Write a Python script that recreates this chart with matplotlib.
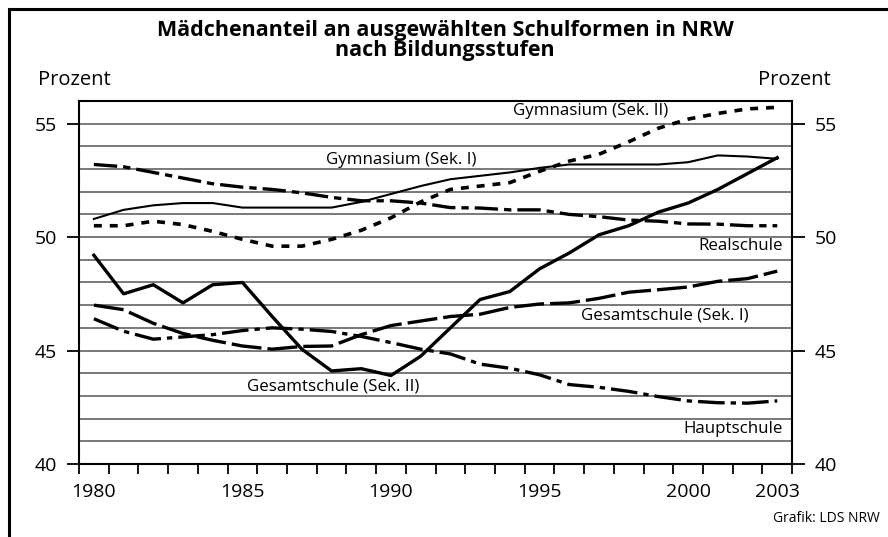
import numpy as np
import matplotlib
matplotlib.use("Agg")
from matplotlib import pyplot as plt
from matplotlib.lines import Line2D

plt.rcParams['font.family'] = ['Open Sans', 'DejaVu Sans']

# Daten: Mädchenanteil in Prozent, 1980-2003
jahre = list(range(1980, 2004))

gym_sek1 = [50.8, 51.2, 51.4, 51.5, 51.5, 51.3, 51.3, 51.3, 51.3, 51.55, 51.9, 52.25,
            52.55, 52.7, 52.85, 53.05, 53.2, 53.2, 53.2, 53.2, 53.3, 53.6, 53.55, 53.45]
gym_sek2 = [50.5, 50.5, 50.7, 50.55, 50.25, 49.9, 49.6, 49.6, 49.9, 50.3, 50.85, 51.55,
            52.1, 52.25, 52.4, 52.9, 53.35, 53.65, 54.2, 54.8, 55.2, 55.45, 55.65, 55.72]
realschule = [53.2, 53.1, 52.85, 52.6, 52.35, 52.2, 52.1, 51.95, 51.75, 51.6, 51.6, 51.5,
              51.3, 51.28, 51.2, 51.2, 51.0, 50.9, 50.75, 50.7, 50.58, 50.57, 50.5, 50.5]
ges_sek1 = [47.0, 46.8, 46.2, 45.75, 45.45, 45.2, 45.06, 45.18, 45.2, 45.7, 46.1, 46.3,
            46.5, 46.6, 46.9, 47.05, 47.1, 47.3, 47.57, 47.68, 47.8, 48.05, 48.17, 48.5]
ges_sek2 = [49.2, 47.5, 47.9, 47.1, 47.9, 48.0, 46.5, 45.06, 44.1, 44.2, 43.9, 44.75,
            46.0, 47.25, 47.6, 48.6, 49.3, 50.1, 50.5, 51.1, 51.5, 52.1, 52.8, 53.5]
hauptschule = [46.4, 45.85, 45.5, 45.6, 45.7, 45.88, 46.0, 45.94, 45.84, 45.62, 45.35, 45.06,
               44.85, 44.4, 44.22, 43.93, 43.5, 43.38, 43.2, 42.97, 42.78, 42.7, 42.68, 42.78]

jahr_labels = [1980, 1985, 1990, 1995, 2000, 2003]
prozent_ticks = [40, 45, 50, 55]

fig = plt.figure(figsize=(8.88, 5.37), dpi=100)
ax = fig.add_axes([0.089, 0.136, 0.803, 0.676])

# Gitterlinien jedes Prozent
for v in range(41, 56):
    ax.axhline(v, color='#555555', lw=1.1, zorder=1)

ax.plot(jahre, gym_sek1, color='black', lw=1.5, zorder=3)
ax.plot(jahre, gym_sek2, color='black', lw=2.6, linestyle=(0, (2.2, 2.2)), zorder=3)
ax.plot(jahre, realschule, color='black', lw=2.4, linestyle=(0, (7, 1.8, 2.2, 1.8)), zorder=3)
ax.plot(jahre, ges_sek1, color='black', lw=2.4, linestyle=(0, (9, 1.8)), zorder=3)
ax.plot(jahre, ges_sek2, color='black', lw=2.4, zorder=3)
ax.plot(jahre, hauptschule, color='black', lw=2.4, linestyle=(0, (8, 1.8, 1.6, 1.8)), zorder=3)

ax.set_xlim(1979.5, 2003.5)
ax.set_ylim(40, 56)

ax.set_xticks(jahr_labels)
ax.set_xticklabels([str(j) for j in jahr_labels])
ax.set_xticks(np.arange(1979.5, 2004, 1), minor=True)
ax.tick_params(axis='x', which='major', length=0, pad=14, labelsize=14)
ax.tick_params(axis='x', which='minor', length=7, width=1.3, direction='out')

ax.set_yticks(prozent_ticks)
ax.tick_params(axis='y', which='both', left=True, right=True, labelleft=True,
               labelright=True, length=9, width=1.3, pad=7, labelsize=14)

for s in ax.spines.values():
    s.set_linewidth(1.5)

lab = dict(fontsize=12.2, va='center', zorder=4)
ax.text(1996.73, 55.57, 'Gymnasium (Sek. II)', ha='center', **lab)
ax.text(1990.34, 53.41, 'Gymnasium (Sek. I)', ha='center', **lab)
ax.text(2003.2, 49.6, 'Realschule', ha='right', **lab)
ax.text(2002.05, 46.53, 'Gesamtschule (Sek. I)', ha='right', **lab)
ax.text(1988.07, 43.4, 'Gesamtschule (Sek. II)', ha='center', **lab)
ax.text(2003.2, 41.54, 'Hauptschule', ha='right', **lab)

fig.text(0.501, 1 - 36 / 537, 'Mädchenanteil an ausgewählten Schulformen in NRW',
         ha='center', va='baseline', fontsize=15.5, fontweight='bold')
fig.text(0.501, 1 - 56 / 537, 'nach Bildungsstufen',
         ha='center', va='baseline', fontsize=15.5, fontweight='bold')
fig.text(38 / 888, 1 - 80 / 537, 'Prozent', ha='left', va='center', fontsize=14.5)
fig.text(831 / 888, 1 - 80 / 537, 'Prozent', ha='right', va='center', fontsize=14.5)
fig.text(880 / 888, 1 - 518 / 537, 'Grafik: LDS NRW', ha='right', va='center', fontsize=10)

# Rahmen links und oben
fig.add_artist(Line2D([9 / 888, 9 / 888], [0, 1 - 9 / 537], color='black', lw=2.2))
fig.add_artist(Line2D([9 / 888, 1], [1 - 9 / 537, 1 - 9 / 537], color='black', lw=2.2))

plt.savefig('out.png', dpi=100)
